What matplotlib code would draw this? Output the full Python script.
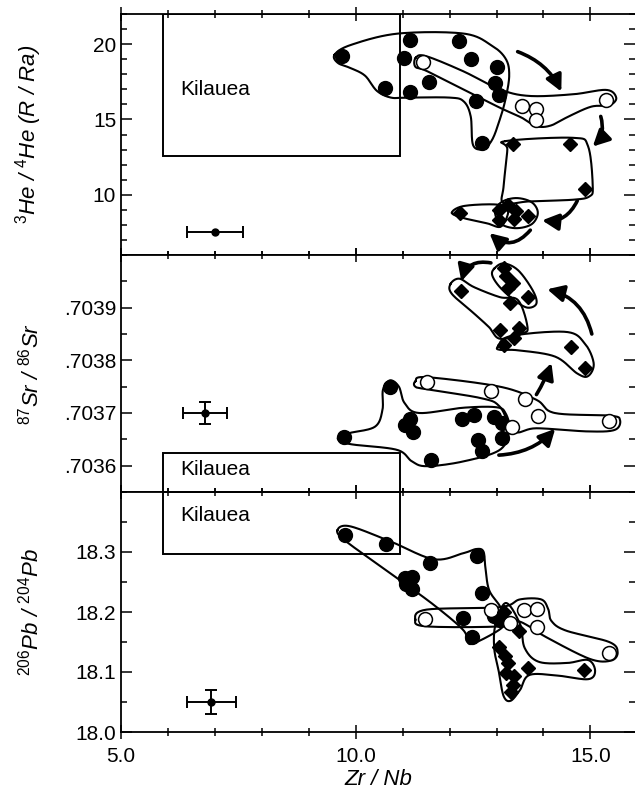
import numpy as np
import matplotlib
matplotlib.use("Agg")
import matplotlib.pyplot as plt
from matplotlib.patches import Rectangle, FancyArrowPatch
from matplotlib.ticker import MultipleLocator, FuncFormatter

plt.rcParams['font.family'] = ['Liberation Sans', 'DejaVu Sans']
plt.rcParams['mathtext.fontset'] = 'custom'
plt.rcParams['mathtext.rm'] = 'Liberation Sans'
plt.rcParams['mathtext.it'] = 'Liberation Sans:italic'

# --- 3He/4He vs Zr/Nb ---
he_filled_x = [9.71, 11.16, 11.02, 12.20, 12.46, 13.01, 11.57, 10.63, 11.16, 12.96, 13.05, 12.57, 12.68]
he_filled_y = [19.2, 20.3, 19.05, 20.2, 19.0, 18.45, 17.5, 17.1, 16.85, 17.45, 16.6, 16.2, 13.45]
he_open_x = [11.43, 13.55, 13.85, 13.85, 15.34]
he_open_y = [18.8, 15.9, 15.7, 14.95, 16.3]
he_dia_x = [13.35, 14.57, 14.88, 12.22, 13.06, 13.25, 13.42, 13.66, 13.05, 13.38]
he_dia_y = [13.35, 13.4, 10.4, 8.8, 9.0, 9.35, 8.9, 8.62, 8.3, 8.36]
he_err = (7.0, 7.5, 0.6, 0.0)

# --- 87Sr/86Sr vs Zr/Nb ---
sr_filled_x = [9.75, 10.73, 11.16, 11.04, 11.21, 11.61, 12.27, 12.52, 12.95, 13.11, 12.60, 12.70, 13.11]
sr_filled_y = [.703654, .703749, .703688, .703678, .703663, .703611, .703688, .703696,
               .703693, .703681, .703648, .703628, .703652]
sr_open_x = [11.51, 12.89, 13.60, 13.89, 13.32, 15.40]
sr_open_y = [.703758, .703742, .703726, .703695, .703673, .703684]
sr_dia_x = [13.16, 13.21, 13.36, 13.24, 13.66, 12.25, 13.28, 13.07, 13.48, 13.38, 13.16, 14.59, 14.89]
sr_dia_y = [.703975, .70396, .703946, .703937, .70392, .703932, .703909, .703858,
            .703862, .703843, .70383, .703825, .703785]
sr_err = (6.78, .7037, 0.47, 0.00002)

# --- 206Pb/204Pb vs Zr/Nb ---
pb_filled_x = [9.77, 10.65, 11.59, 12.58, 11.04, 11.20, 11.08, 11.20, 12.70, 12.29, 12.48, 12.95, 13.07]
pb_filled_y = [18.329, 18.314, 18.282, 18.294, 18.257, 18.259, 18.246, 18.238, 18.231,
               18.19, 18.158, 18.193, 18.187]
pb_open_x = [11.47, 12.88, 13.29, 13.58, 13.87, 13.87, 15.39]
pb_open_y = [18.188, 18.203, 18.182, 18.203, 18.205, 18.175, 18.132]
pb_dia_x = [13.15, 13.47, 13.06, 13.17, 13.25, 13.20, 13.37, 13.36, 13.30, 13.67, 14.87]
pb_dia_y = [18.2, 18.169, 18.141, 18.127, 18.115, 18.098, 18.093, 18.079, 18.067, 18.106, 18.103]
pb_err = (6.92, 18.05, 0.52, 0.02)

# Kilauea field (Zr/Nb range) and its limit in each panel
kil_x = (5.9, 10.95)
kil_he_low = 12.6
kil_sr_high = .703625
kil_pb_low = 18.297

# group outlines
he_outlines = [
    [(9.55, 19.3), (9.9, 19.95), (10.9, 20.7), (12.3, 20.7), (12.9, 19.9), (13.2, 19.0),
     (13.27, 17.9), (13.19, 16.33), (13.07, 15.0), (12.91, 13.67), (12.72, 13.05),
     (12.5, 13.3), (12.45, 15.2), (12.3, 16.2), (12.0, 16.45), (11.1, 16.45), (10.75, 16.45),
     (10.45, 16.9), (10.2, 17.9), (9.9, 18.4), (9.62, 18.75)],
    [(11.28, 19.1), (11.5, 19.2), (12.29, 18.2), (13.07, 17.0), (13.7, 16.56), (14.63, 16.67),
     (15.34, 16.96), (15.55, 16.44), (15.41, 15.95), (15.02, 15.85), (14.55, 15.22),
     (14.16, 14.6), (13.85, 14.55), (13.54, 15.11), (13.07, 15.78), (12.29, 17.0),
     (11.51, 18.22), (11.27, 18.5)],
    [(13.19, 13.56), (14.63, 13.78), (14.95, 13.22), (15.05, 10.56), (14.98, 9.89),
     (14.63, 9.67), (13.7, 9.56), (13.15, 9.44), (13.15, 10.56), (13.23, 13.0)],
    [(12.05, 8.8), (12.3, 9.25), (13.0, 9.35), (13.25, 9.0), (13.1, 7.9), (12.8, 8.1), (12.3, 8.45)],
    [(12.97, 8.8), (13.1, 9.5), (13.42, 9.78), (13.75, 9.5), (13.88, 8.8), (13.75, 8.05),
     (13.42, 7.78), (13.1, 8.05)],
]
sr_outlines = [
    [(9.63, .703654), (9.87, .703662), (10.41, .703674), (10.57, .703706), (10.58, .703744),
     (10.73, .703762), (10.92, .70375), (11.04, .703719), (11.35, .7037), (12.29, .70371),
     (12.99, .703711), (13.19, .7037), (13.27, .703668), (13.07, .70363), (12.29, .703608),
     (11.51, .703599), (11.2, .703608), (10.88, .70363), (9.95, .70364), (9.68, .703646)],
    [(11.27, .70376), (11.51, .703768), (13.07, .70375), (13.85, .703725), (14.24, .7037),
     (15.41, .703695), (15.63, .703687), (15.52, .703668), (14.95, .703665), (13.85, .703671),
     (13.38, .703665), (13.07, .703712), (12.68, .703728), (11.51, .703745), (11.27, .70375)],
    [(13.03, .703826), (13.3, .703846), (14.48, .703854), (14.88, .703832), (15.07, .703794),
     (14.95, .70377), (14.72, .703775), (14.25, .703807), (13.46, .703819), (13.07, .70382)],
    [(12.02, .703945), (12.21, .703955), (12.52, .703939), (13.07, .70392), (13.46, .703914),
     (13.66, .703863), (13.54, .703851), (13.07, .703841), (12.84, .703863), (12.52, .703889),
     (12.05, .703926)],
    [(12.95, .703974), (13.15, .703984), (13.46, .703971), (13.77, .703933), (13.85, .703908),
     (13.66, .7039), (13.38, .703914), (13.07, .703939), (12.91, .703961)],
]
pb_outlines = [
    [(9.61, 18.336), (9.87, 18.343), (10.73, 18.318), (11.66, 18.288), (12.29, 18.298),
     (12.57, 18.305), (12.72, 18.301), (12.76, 18.276), (12.84, 18.237), (13.07, 18.21),
     (13.19, 18.187), (13.07, 18.171), (12.52, 18.148), (12.37, 18.151), (12.29, 18.17),
     (11.66, 18.212), (10.73, 18.265), (9.79, 18.318)],
    [(11.27, 18.187), (11.51, 18.204), (13.07, 18.208), (13.5, 18.221), (13.95, 18.221),
     (14.1, 18.205), (14.17, 18.185), (14.48, 18.169), (15.4, 18.15), (15.58, 18.133),
     (15.44, 18.119), (14.98, 18.122), (14.06, 18.158), (13.74, 18.174), (13.42, 18.185),
     (13.07, 18.176), (11.51, 18.176)],
    [(12.98, 18.18), (13.2, 18.215), (13.5, 18.18), (13.6, 18.14), (13.9, 18.117),
     (14.5, 18.115), (14.95, 18.12), (15.1, 18.102), (14.95, 18.088), (14.3, 18.094),
     (13.7, 18.095), (13.5, 18.07), (13.3, 18.052), (13.15, 18.06), (13.05, 18.1),
     (12.95, 18.14)],
]

# curved arrows: start, end, arc radius
he_arrows = [((13.45, 19.5), (14.38, 16.85), -0.2), ((15.22, 15.2), (15.05, 13.2), -0.3),
             ((14.72, 9.6), (13.97, 8.3), -0.35), ((13.72, 7.65), (12.85, 7.45), -0.5)]
sr_arrows = [((13.05, .70362), (14.25, .70367), 0.2), ((13.85, .703735), (14.17, .703795), 0.05),
             ((15.03, .70385), (14.08, .703935), 0.3), ((12.88, .703985), (12.25, .70395), 0.45)]
pb_arrows = []


def closed_curve(pts, n=20):
    # periodic Catmull-Rom through the outline vertices
    p = np.asarray(pts, dtype=float)
    m = len(p)
    t = np.linspace(0, 1, n, endpoint=False)[:, None]
    segs = []
    for i in range(m):
        p0, p1, p2, p3 = p[i - 1], p[i], p[(i + 1) % m], p[(i + 2) % m]
        segs.append(0.5 * (2 * p1 + (-p0 + p2) * t + (2 * p0 - 5 * p1 + 4 * p2 - p3) * t ** 2
                           + (-p0 + 3 * p1 - 3 * p2 + p3) * t ** 3))
    c = np.vstack(segs + [segs[0][:1]])
    return c[:, 0], c[:, 1]


def draw_panel(ax, fx, fy, ox, oy, dx, dy, err, outlines, arrows):
    for o in outlines:
        cx, cy = closed_curve(o)
        ax.plot(cx, cy, color='k', lw=1.5, zorder=2)
    for (s, e, rad) in arrows:
        ax.add_patch(FancyArrowPatch(s, e, connectionstyle=f'arc3,rad={rad}',
                                     arrowstyle='-|>,head_length=0.75,head_width=0.38',
                                     mutation_scale=13, lw=2.6, color='k',
                                     shrinkA=0, shrinkB=0, zorder=3))
    ax.plot(fx, fy, 'o', ms=10, color='k', zorder=4)
    ax.plot(ox, oy, 'o', ms=10, mfc='white', mec='k', mew=1.1, zorder=5)
    ax.plot(dx, dy, 'D', ms=7.5, color='k', zorder=5)
    ex, ey, exe, eye = err
    ax.errorbar(ex, ey, xerr=exe, yerr=eye if eye else None, fmt='o', ms=5, color='k',
                capsize=4, elinewidth=1.4, capthick=1.4)


fig = plt.figure(figsize=(6.35, 8), dpi=100)
left, width = 0.1906, 0.8094
ax_he = fig.add_axes([left, 0.68125, width, 0.30125])
ax_sr = fig.add_axes([left, 0.385, width, 0.29625])
ax_pb = fig.add_axes([left, 0.085, width, 0.3])

draw_panel(ax_he, he_filled_x, he_filled_y, he_open_x, he_open_y, he_dia_x, he_dia_y,
           he_err, he_outlines, he_arrows)
draw_panel(ax_sr, sr_filled_x, sr_filled_y, sr_open_x, sr_open_y, sr_dia_x, sr_dia_y,
           sr_err, sr_outlines, sr_arrows)
draw_panel(ax_pb, pb_filled_x, pb_filled_y, pb_open_x, pb_open_y, pb_dia_x, pb_dia_y,
           pb_err, pb_outlines, pb_arrows)

ax_he.set_ylim(6, 22)
ax_sr.set_ylim(.70355, .70400)
ax_pb.set_ylim(18.0, 18.4)

# Kilauea boxes
ax_he.add_patch(Rectangle((kil_x[0], kil_he_low), kil_x[1] - kil_x[0], 22 - kil_he_low,
                          fill=False, lw=1.4, ec='k', zorder=1))
ax_sr.add_patch(Rectangle((kil_x[0], .70355), kil_x[1] - kil_x[0], kil_sr_high - .70355,
                          fill=False, lw=1.4, ec='k', zorder=1))
ax_pb.add_patch(Rectangle((kil_x[0], kil_pb_low), kil_x[1] - kil_x[0], 18.4 - kil_pb_low,
                          fill=False, lw=1.4, ec='k', zorder=1))
ax_he.text(6.27, 17.0, 'Kilauea', fontsize=15, va='center')
ax_sr.text(6.27, .703593, 'Kilauea', fontsize=15, va='center')
ax_pb.text(6.27, 18.36, 'Kilauea', fontsize=15, va='center')

for ax in (ax_he, ax_sr, ax_pb):
    ax.set_xlim(5, 15.95)
    ax.spines['right'].set_visible(False)
    for s in ('left', 'top', 'bottom'):
        ax.spines[s].set_linewidth(1.3)
    ax.xaxis.set_major_locator(MultipleLocator(5))
    ax.xaxis.set_minor_locator(MultipleLocator(1))
    ax.tick_params(axis='x', which='both', direction='inout', top=True, bottom=True, width=1.1)
    ax.tick_params(axis='x', which='major', length=10, pad=6)
    ax.tick_params(axis='x', which='minor', length=6)
    ax.tick_params(axis='y', which='both', direction='in', left=True, right=True, width=1.1,
                   labelsize=15)
    ax.tick_params(axis='y', which='major', length=8)
    ax.tick_params(axis='y', which='minor', length=4)
    ax.tick_params(axis='x', labelsize=15)

ax_he.tick_params(axis='x', labelbottom=False)
ax_sr.tick_params(axis='x', labelbottom=False)

ax_he.set_yticks([10, 15, 20])
ax_he.yaxis.set_minor_locator(MultipleLocator(1))
ax_sr.set_yticks([.7036, .7037, .7038, .7039])
ax_sr.yaxis.set_minor_locator(MultipleLocator(.00005))
ax_sr.yaxis.set_major_formatter(FuncFormatter(lambda v, p: f'{v:.4f}'.lstrip('0')))
ax_pb.set_yticks([18.0, 18.1, 18.2, 18.3])
ax_pb.yaxis.set_minor_locator(MultipleLocator(.05))
ax_pb.yaxis.set_major_formatter(FuncFormatter(lambda v, p: f'{v:.1f}'))
ax_pb.xaxis.set_major_formatter(FuncFormatter(lambda v, p: f'{v:.1f}'))

lab = dict(fontsize=16, style='italic')
ax_he.set_ylabel(r'$^{3}$He / $^{4}$He (R / Ra)', **lab)
ax_sr.set_ylabel(r'$^{87}$Sr / $^{86}$Sr', **lab)
ax_pb.set_ylabel(r'$^{206}$Pb / $^{204}$Pb', **lab)
ax_pb.set_xlabel('Zr / Nb', labelpad=2, **lab)
for ax in (ax_he, ax_sr, ax_pb):
    ax.yaxis.set_label_coords(-0.15, 0.5)

fig.savefig('out.png', dpi=100)
